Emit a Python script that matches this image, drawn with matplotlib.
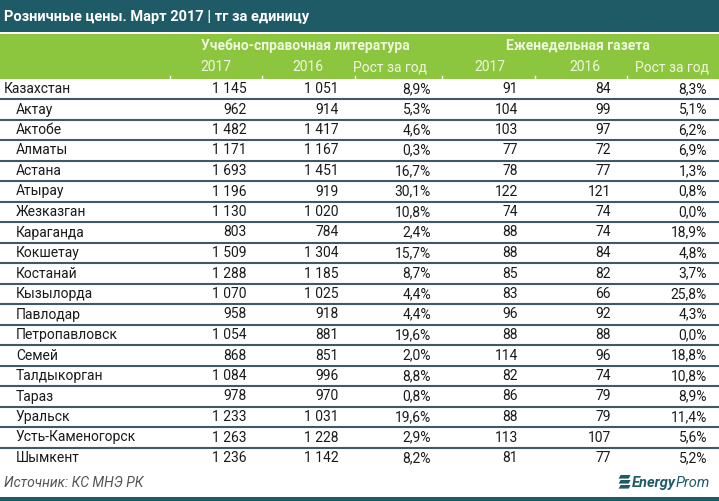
import matplotlib.pyplot as plt
from matplotlib.patches import Rectangle, Polygon

plt.rcParams['font.family'] = ['Roboto', 'DejaVu Sans']

title = 'Розничные цены. Март 2017 | тг за единицу'
groups = ['Учебно-справочная литература', 'Еженедельная газета']
subheads = ['2017', '2016', 'Рост за год', '2017', '2016', 'Рост за год']
source = 'Источник: КС МНЭ РК'

regions = ['Казахстан', 'Актау', 'Актобе', 'Алматы', 'Астана', 'Атырау', 'Жезказган',
           'Караганда', 'Кокшетау', 'Костанай', 'Кызылорда', 'Павлодар', 'Петропавловск',
           'Семей', 'Талдыкорган', 'Тараз', 'Уральск', 'Усть-Каменогорск', 'Шымкент']
book_2017 = [1145, 962, 1482, 1171, 1693, 1196, 1130, 803, 1509, 1288, 1070, 958, 1054,
             868, 1084, 978, 1233, 1263, 1236]
book_2016 = [1051, 914, 1417, 1167, 1451, 919, 1020, 784, 1304, 1185, 1025, 918, 881,
             851, 996, 970, 1031, 1228, 1142]
book_growth = [8.9, 5.3, 4.6, 0.3, 16.7, 30.1, 10.8, 2.4, 15.7, 8.7, 4.4, 4.4, 19.6,
               2.0, 8.8, 0.8, 19.6, 2.9, 8.2]
news_2017 = [91, 104, 103, 77, 78, 122, 74, 88, 88, 85, 83, 96, 88, 114, 82, 86, 88, 113, 81]
news_2016 = [84, 99, 97, 72, 77, 121, 74, 74, 84, 82, 66, 92, 88, 96, 74, 79, 79, 107, 77]
news_growth = [8.3, 5.1, 6.2, 6.9, 1.3, 0.8, 0.0, 18.9, 4.8, 3.7, 25.8, 4.3, 0.0,
               18.8, 10.8, 8.9, 11.4, 5.6, 5.2]

TEAL = '#1f5a67'
GREEN = '#8cc63f'
PALE = '#f0f7e0'
LINE = '#3f5a66'
TXT = '#1a1a1a'


def fmt_int(v):
    return f'{v:,}'.replace(',', ' ')


def fmt_pct(v):
    return f'{v:.1f}%'.replace('.', ',')


W, H = 719, 501
fig = plt.figure(figsize=(W / 100, H / 100), dpi=100)
ax = fig.add_axes([0, 0, 1, 1])
ax.set_xlim(0, W)
ax.set_ylim(H, 0)
ax.axis('off')

# header bands
ax.add_patch(Rectangle((0, 0), W, 32, color=TEAL, lw=0))
ax.add_patch(Rectangle((0, 34), W, 45, color=GREEN, lw=0))
ax.text(4, 16.5, title, color='white', fontsize=10.5, fontweight='bold', va='center')

group_x = [305, 578]
for gx, g in zip(group_x, groups):
    ax.text(gx, 46, g, color=PALE, fontsize=10, fontweight='bold', ha='center', va='center')

head_x = [216, 308, 390, 490, 585, 672]
for hx, h in zip(head_x, subheads):
    ax.text(hx, 67, h, color=PALE, fontsize=10, ha='center', va='center')

for tx in [170, 262, 355, 442, 535, 627]:
    ax.plot([tx, tx], [76, 79], color='white', lw=1)

# body
col_right = [247, 339, 431, 518, 611, 707]
row0, step = 89, 20.5
cols = [book_2017, book_2016, book_growth, news_2017, news_2016, news_growth]
fmts = [fmt_int, fmt_int, fmt_pct, fmt_int, fmt_int, fmt_pct]
for i, name in enumerate(regions):
    y = row0 + i * step
    ax.text(4 if i == 0 else 16, y, name, color=TXT, fontsize=10, va='center')
    for cx, vals, f in zip(col_right, cols, fmts):
        ax.text(cx, y, f(vals[i]), color=TXT, fontsize=10, ha='right', va='center')
    if i < len(regions) - 1:
        ax.plot([0, W], [y + step / 2, y + step / 2], color=LINE, lw=1.5)

# footer
ax.text(4, 483, source, color='#555555', fontsize=10, style='italic', va='center')

# logo: "Prom" right-aligned, "Energy" placed right before it
renderer = fig.canvas.get_renderer()
prom = ax.text(710, 483, 'Prom', color=TEAL, fontsize=10.5, style='italic',
               ha='right', va='center')
bb = prom.get_window_extent(renderer)
left_px = ax.transData.inverted().transform((bb.x0, bb.y0))[0]
energy = ax.text(left_px, 483, 'Energy', color=TEAL, fontsize=10.5, fontweight='bold',
                 style='italic', ha='right', va='center')
bb2 = energy.get_window_extent(renderer)
ex = ax.transData.inverted().transform((bb2.x0, bb2.y0))[0]
for k in range(3):
    yy = 475 + k * 5
    x1 = ex - 1
    ax.add_patch(Polygon([(x1 - 10, yy), (x1, yy), (x1 - 2, yy + 3.6), (x1 - 12, yy + 3.6)],
                         color=TEAL, lw=0))
ax.add_patch(Rectangle((0, 497), W, 4, color=TEAL, lw=0))

fig.savefig('out.png', dpi=100)
